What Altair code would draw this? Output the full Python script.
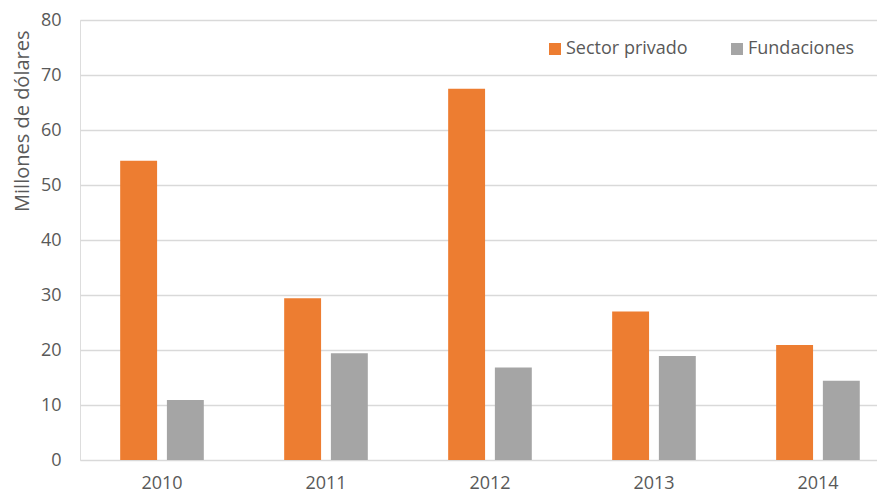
import altair as alt
import pandas as pd

years = ["2010", "2011", "2012", "2013", "2014"]
series_names = ["Sector privado", "Fundaciones"]
sector_privado = [54.4, 29.4, 67.5, 27.0, 20.9]
fundaciones = [10.9, 19.4, 16.8, 18.9, 14.4]
y_ticks = [0, 10, 20, 30, 40, 50, 60, 70, 80]
colors = ["#ED7D31", "#A5A5A5"]

rows = []
for i, yr in enumerate(years):
    rows.append({"year": yr, "serie": series_names[0], "value": sector_privado[i]})
    rows.append({"year": yr, "serie": series_names[1], "value": fundaciones[i]})
df = pd.DataFrame(rows)

FONT = "Open Sans"
TEXT = "#595959"

chart = alt.Chart(df).mark_bar().encode(
    x=alt.X("year:N", sort=years,
            scale=alt.Scale(paddingInner=0.49, paddingOuter=0.175, align=0.7),
            axis=alt.Axis(title=None, labelAngle=0, ticks=False, domain=False,
                          labelFontSize=18, labelColor=TEXT, labelFont=FONT,
                          labelPadding=14, grid=False)),
    xOffset=alt.XOffset("serie:N", sort=series_names,
                        scale=alt.Scale(paddingInner=0.21, paddingOuter=0)),
    y=alt.Y("value:Q", scale=alt.Scale(domain=[0, 80], nice=False),
            axis=alt.Axis(title="Millones de dólares", values=y_ticks,
                          ticks=False, domain=False, grid=True,
                          gridColor="#D9D9D9", gridWidth=1.3,
                          labelFontSize=18, labelColor=TEXT, labelFont=FONT,
                          labelPadding=19,
                          titleFontSize=20, titleColor=TEXT, titleFont=FONT,
                          titleFontWeight="normal", titleAnchor="end",
                          titleAngle=-90, titleX=-52, titleY=10,
                          titleBaseline="alphabetic", titleAlign="right")),
    color=alt.Color("serie:N", sort=series_names,
                    scale=alt.Scale(domain=series_names, range=colors),
                    legend=alt.Legend(title=None, orient="none", legendX=466,
                                      legendY=20, direction="horizontal",
                                      symbolType="square", symbolSize=144,
                                      symbolStrokeWidth=0, labelFontSize=18,
                                      labelColor=TEXT, labelFont=FONT,
                                      labelOffset=2, columnPadding=40,
                                      padding=0)),
).properties(
    width=797,
    height=440,
    autosize=alt.AutoSizeParams(type="none"),
    padding={"left": 72, "top": 12, "right": 0, "bottom": 34},
).configure_view(stroke=None).configure(font=FONT)

chart.save("out.html", embed_options={"renderer": "svg", "actions": False})
